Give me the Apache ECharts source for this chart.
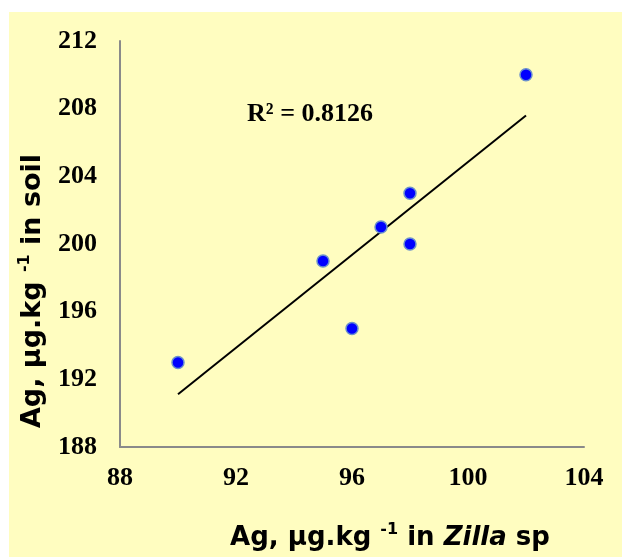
<!DOCTYPE html>
<html>
<head>
<meta charset="utf-8">
<script src="https://cdn.jsdelivr.net/npm/echarts@6/dist/echarts.min.js"></script>
<style>
html,body{margin:0;padding:0;background:#ffffff;}
#chart{width:622px;height:557px;}
</style>
</head>
<body>
<div id="chart"></div>
<script>
// Data
var xValues = [90, 95, 96, 97, 98, 98, 102];   // Ag in Zilla sp
var yValues = [193, 199, 195, 201, 203, 200, 210]; // Ag in soil
var xTicks = [88, 92, 96, 100, 104];
var yTicks = [188, 192, 196, 200, 204, 208, 212];
var r2Label = 'R² = 0.8126';

var points = xValues.map(function (x, i) { return [x, yValues[i]]; });

// least-squares trendline from the data
var n = xValues.length;
var mx = xValues.reduce(function (a, b) { return a + b; }, 0) / n;
var my = yValues.reduce(function (a, b) { return a + b; }, 0) / n;
var sxy = 0, sxx = 0;
for (var i = 0; i < n; i++) { sxy += (xValues[i] - mx) * (yValues[i] - my); sxx += (xValues[i] - mx) * (xValues[i] - mx); }
var slope = sxy / sxx, intercept = my - slope * mx;
var xMin = Math.min.apply(null, xValues), xMax = Math.max.apply(null, xValues);
var trend = [[xMin, intercept + slope * xMin], [xMax, intercept + slope * xMax]];

var chart = echarts.init(document.getElementById('chart'));
var tickFont = { fontFamily: 'Liberation Serif', fontWeight: 'bold', fontSize: 26, color: '#000' };
function rich(fs) {
  return {
    base: { fontFamily: 'DejaVu Sans', fontWeight: 'bold', fontSize: fs, color: '#000', lineHeight: fs + 6 },
    sup: { fontFamily: 'DejaVu Sans', fontWeight: 'bold', fontSize: Math.round(fs * 0.6), color: '#000', verticalAlign: 'top', lineHeight: fs - 4 },
    it: { fontFamily: 'DejaVu Sans', fontWeight: 'bold', fontStyle: 'italic', fontSize: fs, color: '#000', lineHeight: fs + 6 }
  };
}
chart.setOption({
  animation: false,
  backgroundColor: 'transparent',
  grid: { left: 120, right: 38, top: 41, bottom: 110, containLabel: false },
  xAxis: {
    type: 'value', min: xTicks[0], max: xTicks[xTicks.length - 1], interval: 4,
    axisLine: { show: true, onZero: false, lineStyle: { color: '#8a8a8a', width: 2 } },
    axisTick: { show: false }, splitLine: { show: false },
    axisLabel: Object.assign({ margin: 18 }, tickFont)
  },
  yAxis: {
    type: 'value', min: yTicks[0], max: yTicks[yTicks.length - 1], interval: 4,
    axisLine: { show: true, onZero: false, lineStyle: { color: '#8a8a8a', width: 2 } },
    axisTick: { show: false }, splitLine: { show: false },
    axisLabel: Object.assign({ margin: 23 }, tickFont)
  },
  graphic: [
    { type: 'rect', z: -10, shape: { x: 9, y: 12, width: 613, height: 545 }, style: { fill: '#FFFDC0' }, silent: true },
    { type: 'text', x: 310, y: 114, style: { text: r2Label, font: 'bold 26px "Liberation Serif"', fill: '#000', align: 'center', verticalAlign: 'middle' } },
    { type: 'text', x: 390, y: 538, style: { text: '{base|Ag, µg.kg }{sup|-1}{base| in }{it|Zilla}{base| sp}', rich: rich(26), align: 'center', verticalAlign: 'middle' } },
    { type: 'text', x: 33, y: 291, rotation: Math.PI / 2, style: { text: '{base|Ag, µg.kg }{sup|-1}{base| in soil}', rich: rich(27), align: 'center', verticalAlign: 'middle' } }
  ],
  series: [
    { type: 'line', data: trend, symbol: 'none', lineStyle: { color: '#000', width: 2 }, z: 2 },
    { type: 'scatter', data: points, symbolSize: 12,
      itemStyle: { color: '#0000ff', borderColor: '#6a90cc', borderWidth: 1.5, opacity: 1 }, z: 3 }
  ]
});
</script>
</body>
</html>
